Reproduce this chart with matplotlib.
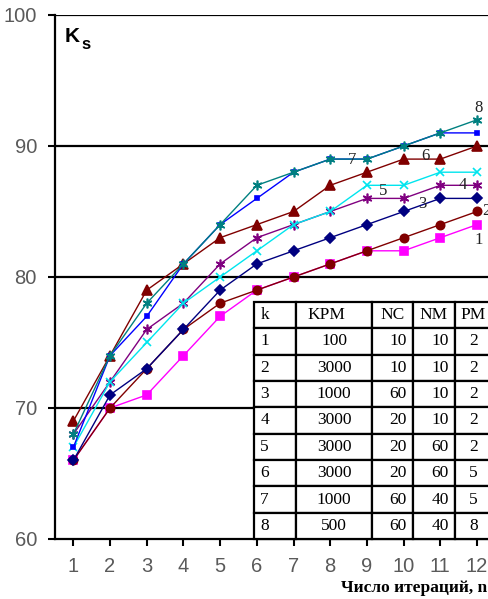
import matplotlib
matplotlib.use("Agg")
import matplotlib.pyplot as plt
import numpy as np

# iterations
n = [1, 2, 3, 4, 5, 6, 7, 8, 9, 10, 11, 12]

# Ks values for the 8 parameter sets
ks1 = [66, 70, 71, 74, 77, 79, 80, 81, 82, 82, 83, 84]
ks2 = [66, 70, 73, 76, 78, 79, 80, 81, 82, 83, 84, 85]
ks3 = [66, 71, 73, 76, 79, 81, 82, 83, 84, 85, 86, 86]
ks4 = [68, 72, 76, 78, 81, 83, 84, 85, 86, 86, 87, 87]
ks5 = [67, 72, 75, 78, 80, 82, 84, 85, 87, 87, 88, 88]
ks6 = [69, 74, 79, 81, 83, 84, 85, 87, 88, 89, 89, 90]
ks7 = [67, 74, 77, 81, 84, 86, 88, 89, 89, 90, 91, 91]
ks8 = [68, 74, 78, 81, 84, 87, 88, 89, 89, 90, 91, 92]
series = [ks1, ks2, ks3, ks4, ks5, ks6, ks7, ks8]

# table contents
col_labels = ["k", "KPM", "NC", "NM", "PM"]
k_vals = ["1", "2", "3", "4", "5", "6", "7", "8"]
kpm_vals = ["100", "3000", "1000", "3000", "3000", "3000", "1000", "500"]
nc_vals = ["10", "10", "60", "20", "20", "20", "60", "60"]
nm_vals = ["10", "10", "10", "10", "60", "60", "40", "40"]
pm_vals = ["2", "2", "2", "2", "2", "5", "5", "8"]

# styles per series
styles = [
    dict(color="#FF00FF", marker="s", ms=6),
    dict(color="#800000", marker="o", ms=6),
    dict(color="#000080", marker="D", ms=5.5),
    dict(color="#800080", marker=(6, 2, 0), ms=7),
    dict(color="#00E5EE", marker="x", ms=6),
    dict(color="#800000", marker="^", ms=7),
    dict(color="#0000FF", marker="s", ms=3.5),
    dict(color="#008080", marker=(6, 2, 0), ms=7),
]
# where the curve numbers sit
label_pos = [(12.05, 82.8), (12.25, 85.0), (10.5, 85.6), (11.6, 87.0),
             (9.45, 86.6), (10.6, 89.2), (8.6, 88.9), (12.05, 92.9)]

W, H = 489, 599
fig = plt.figure(figsize=(W / 100, H / 100), dpi=100)
ax = fig.add_axes([55 / W, 60 / H, 440.4 / W, 524 / H])

for i, (vals, st) in enumerate(zip(series, styles)):
    ax.plot(n, vals, color=st["color"], lw=1.0, marker=st["marker"],
            ms=st["ms"], mfc=st["color"], mec=st["color"], mew=1.2, zorder=3 + i)

for i, (x, y) in enumerate(label_pos):
    ax.text(x, y, str(i + 1), fontsize=12, family="Liberation Serif",
            ha="center", va="center", color="#222222", zorder=20)

ax.set_xlim(0.5, 12.5)
ax.set_ylim(60, 100)
ax.set_xticks(n)
ax.set_yticks([60, 70, 80, 90, 100])
for y in [70, 80, 90, 100]:
    ax.axhline(y, color="black", lw=1.6, zorder=1)

for s in ["top", "right"]:
    ax.spines[s].set_visible(False)
for s in ["left", "bottom"]:
    ax.spines[s].set_linewidth(1.6)
ax.tick_params(axis="both", direction="out", length=5, width=1.5,
               labelsize=14.5, labelcolor="#5a5a5a")
ax.tick_params(axis="x", pad=8)
ax.tick_params(axis="y", pad=8)
for lab in ax.get_xticklabels() + ax.get_yticklabels():
    lab.set_family("Liberation Sans")

# Ks title
fig.text(65 / W, 1 - 27 / H, "K", fontsize=15, fontweight="bold",
         family="Liberation Sans", va="top", ha="left")
fig.text(81 / W, 1 - 49 / H, "s", fontsize=12, fontweight="bold",
         family="Liberation Sans", va="baseline", ha="left")

# axis label
fig.text(487 / W, 1 - 588 / H, "Число итераций, n", fontsize=12.5,
         fontweight="bold", family="Liberation Serif", ha="right", va="center")

# parameter table
cell_text = [list(r) for r in zip(k_vals, kpm_vals, nc_vals, nm_vals, pm_vals)]
col_w = np.array([42, 76, 41, 42, 37]) / 440.4
tbl = ax.table(cellText=cell_text, colLabels=col_labels, colWidths=list(col_w),
               bbox=[(254 - 55) / 440.4, 0, col_w.sum(), (539 - 302) / 524],
               zorder=30)
tbl.auto_set_font_size(False)
aligns = ["left", "center", "right", "right", "center"]
for (r, c), cell in tbl.get_celld().items():
    cell.set_linewidth(1.6)
    cell.set_edgecolor("black")
    cell.set_facecolor("white")
    txt = cell.get_text()
    txt.set_fontsize(12.5)
    txt.set_family("Liberation Serif")
    cell.PAD = 0.15
    if r == 0:
        txt.set_ha("left" if c < 2 else "center")
    else:
        txt.set_ha(aligns[c])

fig.savefig("out.png", dpi=100)
